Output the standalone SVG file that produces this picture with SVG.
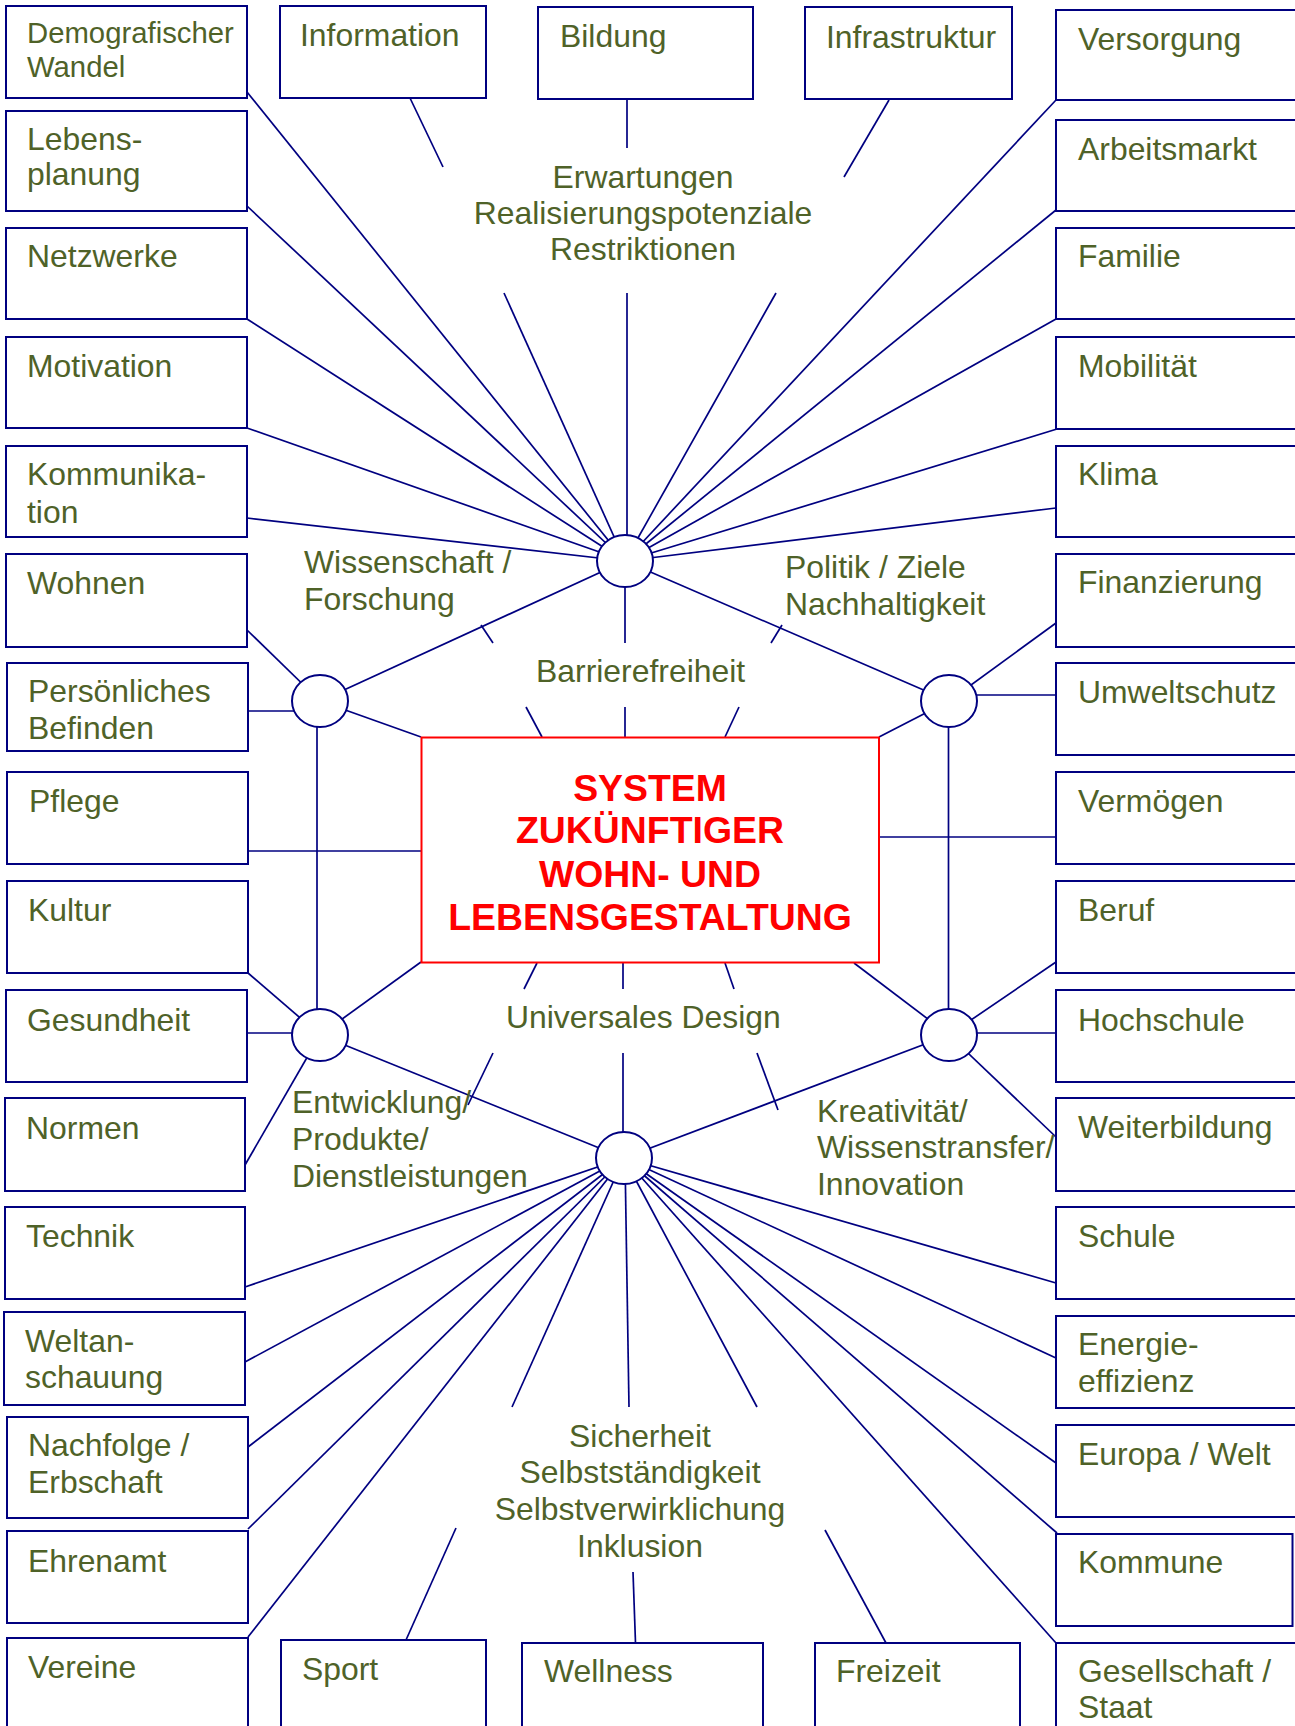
<svg xmlns="http://www.w3.org/2000/svg" width="1295" height="1726" viewBox="0 0 1295 1726">
<style>
  .bg { fill: #ffffff; }
  .box { fill: #ffffff; stroke: #000080; stroke-width: 2; }
  .hub { fill: #ffffff; stroke: #000080; stroke-width: 2; }
  .core { fill: #ffffff; stroke: #ff0000; stroke-width: 2; }
  .c line { stroke: #000080; stroke-width: 1.7; }
  text { font-family: "Liberation Sans", Arial, sans-serif; }
  .t { font-size: 31.9px; fill: #4f6228; }
  .ts { font-size: 29.3px; fill: #4f6228; }
  .mid { text-anchor: middle; }
  .title { font-size: 37.4px; font-weight: bold; fill: #ff0000; text-anchor: middle; }
</style>
<rect class="bg" x="0" y="0" width="1295" height="1726"/>

<g id="connectors" class="c">
  <!-- top hub (625,561) -->
  <line x1="247" y1="92" x2="625" y2="561"/>
  <line x1="247" y1="206" x2="625" y2="561"/>
  <line x1="247" y1="319" x2="625" y2="561"/>
  <line x1="247" y1="428" x2="625" y2="561"/>
  <line x1="247" y1="518" x2="625" y2="561"/>
  <line x1="1056" y1="100" x2="625" y2="561"/>
  <line x1="1056" y1="210" x2="625" y2="561"/>
  <line x1="1056" y1="319" x2="625" y2="561"/>
  <line x1="1057" y1="429" x2="625" y2="561"/>
  <line x1="1056" y1="508" x2="625" y2="561"/>
  <line x1="410" y1="98" x2="443" y2="167"/>
  <line x1="504" y1="293" x2="625" y2="561"/>
  <line x1="627" y1="99" x2="627" y2="148"/>
  <line x1="627" y1="293" x2="627" y2="561"/>
  <line x1="889" y1="100" x2="844" y2="177"/>
  <line x1="776" y1="293" x2="625" y2="561"/>
  <!-- top hub to side hubs -->
  <line x1="320" y1="701" x2="625" y2="561"/>
  <line x1="949" y1="701" x2="625" y2="561"/>
  <!-- Barrierefreiheit links -->
  <line x1="481" y1="625" x2="493" y2="643"/>
  <line x1="526" y1="707" x2="542" y2="737"/>
  <line x1="625" y1="561" x2="625" y2="643"/>
  <line x1="625" y1="707" x2="625" y2="737"/>
  <line x1="782" y1="625" x2="771" y2="643"/>
  <line x1="739" y1="707" x2="725" y2="737"/>
  <!-- left hub (320,701) -->
  <line x1="247" y1="630" x2="320" y2="701"/>
  <line x1="248" y1="711" x2="300" y2="711"/>
  <line x1="421" y1="737" x2="320" y2="701"/>
  <line x1="317" y1="701" x2="317" y2="1035"/>
  <line x1="248" y1="851" x2="421" y2="851"/>
  <!-- right hub (949,701) -->
  <line x1="1056" y1="623" x2="949" y2="701"/>
  <line x1="1056" y1="695" x2="949" y2="695"/>
  <line x1="879" y1="737" x2="949" y2="701"/>
  <line x1="948.5" y1="701" x2="948.5" y2="1035"/>
  <line x1="879" y1="837" x2="1056" y2="837"/>
  <!-- lower left hub (320,1035) -->
  <line x1="248" y1="973" x2="320" y2="1035"/>
  <line x1="247" y1="1033" x2="300" y2="1033"/>
  <line x1="421" y1="962" x2="320" y2="1035"/>
  <line x1="245" y1="1165" x2="320" y2="1035"/>
  <line x1="320" y1="1035" x2="624" y2="1158"/>
  <!-- lower right hub (949,1035) -->
  <line x1="854" y1="963" x2="949" y2="1035"/>
  <line x1="1056" y1="962" x2="949" y2="1035"/>
  <line x1="1056" y1="1033" x2="970" y2="1033"/>
  <line x1="1056" y1="1137" x2="949" y2="1035"/>
  <line x1="949" y1="1035" x2="624" y2="1158"/>
  <!-- Universales Design links -->
  <line x1="537" y1="963" x2="524" y2="989"/>
  <line x1="623" y1="963" x2="623" y2="989"/>
  <line x1="725" y1="963" x2="734" y2="989"/>
  <line x1="493" y1="1053" x2="468" y2="1105"/>
  <line x1="623" y1="1053" x2="623" y2="1158"/>
  <line x1="757" y1="1053" x2="778" y2="1110"/>
  <!-- bottom hub (624,1158) -->
  <line x1="245" y1="1287" x2="624" y2="1158"/>
  <line x1="245" y1="1362" x2="624" y2="1158"/>
  <line x1="248" y1="1447" x2="624" y2="1158"/>
  <line x1="248" y1="1529" x2="624" y2="1158"/>
  <line x1="248" y1="1637" x2="624" y2="1158"/>
  <line x1="1056" y1="1283" x2="624" y2="1158"/>
  <line x1="1056" y1="1358" x2="624" y2="1158"/>
  <line x1="1056" y1="1463" x2="624" y2="1158"/>
  <line x1="1057" y1="1533" x2="624" y2="1158"/>
  <line x1="1056" y1="1643" x2="624" y2="1158"/>
  <line x1="406" y1="1640" x2="456" y2="1528"/>
  <line x1="512" y1="1407" x2="624" y2="1158"/>
  <line x1="635.5" y1="1643" x2="633" y2="1572"/>
  <line x1="629" y1="1407" x2="625" y2="1158"/>
  <line x1="886" y1="1643" x2="825" y2="1530"/>
  <line x1="757" y1="1407" x2="624" y2="1158"/>
</g>

<g id="labels">
  <text class="t mid" x="643" y="188">Erwartungen</text>
  <text class="t mid" x="643" y="224">Realisierungspotenziale</text>
  <text class="t mid" x="643" y="260">Restriktionen</text>
  <text class="t" x="304" y="573">Wissenschaft /</text>
  <text class="t" x="304" y="610">Forschung</text>
  <text class="t" x="785" y="578">Politik / Ziele</text>
  <text class="t" x="785" y="615">Nachhaltigkeit</text>
  <text class="t" x="536" y="682">Barrierefreiheit</text>
  <text class="t" x="506" y="1028">Universales Design</text>
  <text class="t" x="292" y="1113">Entwicklung/</text>
  <text class="t" x="292" y="1150">Produkte/</text>
  <text class="t" x="292" y="1187">Dienstleistungen</text>
  <text class="t" x="817" y="1122">Kreativität/</text>
  <text class="t" x="817" y="1158">Wissenstransfer/</text>
  <text class="t" x="817" y="1195">Innovation</text>
  <text class="t mid" x="640" y="1447">Sicherheit</text>
  <text class="t mid" x="640" y="1483">Selbstständigkeit</text>
  <text class="t mid" x="640" y="1520">Selbstverwirklichung</text>
  <text class="t mid" x="640" y="1557">Inklusion</text>
</g>

<!-- hubs -->
<g id="hub-top"><ellipse class="hub" cx="625" cy="561" rx="28" ry="26"/></g>
<g id="hub-left"><ellipse class="hub" cx="320" cy="701" rx="28" ry="26"/></g>
<g id="hub-right"><ellipse class="hub" cx="949" cy="701" rx="28" ry="26"/></g>
<g id="hub-lower-left"><ellipse class="hub" cx="320" cy="1035" rx="28" ry="26"/></g>
<g id="hub-lower-right"><ellipse class="hub" cx="949" cy="1035" rx="28" ry="26"/></g>
<g id="hub-bottom"><ellipse class="hub" cx="624" cy="1158" rx="28" ry="26"/></g>

<!-- center -->
<g id="core">
  <rect class="core" x="421.5" y="737.5" width="457.5" height="225"/>
  <text class="title" x="650" y="801">SYSTEM</text>
  <text class="title" x="650" y="843">ZUKÜNFTIGER</text>
  <text class="title" x="650" y="887">WOHN- UND</text>
  <text class="title" x="650" y="930">LEBENSGESTALTUNG</text>
</g>

<!-- top row -->
<g id="n-demografie"><rect class="box" x="6" y="6" width="241" height="92"/><text class="ts" x="27" y="43">Demografischer</text><text class="ts" x="27" y="77">Wandel</text></g>
<g id="n-information"><rect class="box" x="280" y="6" width="206" height="92"/><text class="t" x="300" y="46">Information</text></g>
<g id="n-bildung"><rect class="box" x="538" y="7" width="215" height="92"/><text class="t" x="560" y="47">Bildung</text></g>
<g id="n-infrastruktur"><rect class="box" x="805" y="7" width="207" height="92"/><text class="t" x="826" y="48">Infrastruktur</text></g>

<!-- left column -->
<g id="n-lebensplanung"><rect class="box" x="6" y="111" width="241" height="100"/><text class="t" x="27" y="150">Lebens-</text><text class="t" x="27" y="185">planung</text></g>
<g id="n-netzwerke"><rect class="box" x="6" y="228" width="241" height="91"/><text class="t" x="27" y="267">Netzwerke</text></g>
<g id="n-motivation"><rect class="box" x="6" y="337" width="241" height="91"/><text class="t" x="27" y="377">Motivation</text></g>
<g id="n-kommunikation"><rect class="box" x="6" y="446" width="241" height="91"/><text class="t" x="27" y="485">Kommunika-</text><text class="t" x="27" y="523">tion</text></g>
<g id="n-wohnen"><rect class="box" x="6" y="554" width="241" height="93"/><text class="t" x="27" y="594">Wohnen</text></g>
<g id="n-befinden"><rect class="box" x="7" y="663" width="241" height="88"/><text class="t" x="28" y="702">Persönliches</text><text class="t" x="28" y="739">Befinden</text></g>
<g id="n-pflege"><rect class="box" x="7" y="772" width="241" height="92"/><text class="t" x="29" y="812">Pflege</text></g>
<g id="n-kultur"><rect class="box" x="7" y="881" width="241" height="92"/><text class="t" x="28" y="921">Kultur</text></g>
<g id="n-gesundheit"><rect class="box" x="6" y="990" width="241" height="92"/><text class="t" x="27" y="1031">Gesundheit</text></g>
<g id="n-normen"><rect class="box" x="5" y="1098" width="240" height="93"/><text class="t" x="26" y="1139">Normen</text></g>
<g id="n-technik"><rect class="box" x="5" y="1207" width="240" height="92"/><text class="t" x="26" y="1247">Technik</text></g>
<g id="n-weltanschauung"><rect class="box" x="4" y="1312" width="241" height="93"/><text class="t" x="25" y="1352">Weltan-</text><text class="t" x="25" y="1388">schauung</text></g>
<g id="n-nachfolge"><rect class="box" x="7" y="1417" width="241" height="101"/><text class="t" x="28" y="1456">Nachfolge /</text><text class="t" x="28" y="1493">Erbschaft</text></g>
<g id="n-ehrenamt"><rect class="box" x="7" y="1531" width="241" height="92"/><text class="t" x="28" y="1572">Ehrenamt</text></g>
<g id="n-vereine"><rect class="box" x="7" y="1638" width="241" height="100"/><text class="t" x="28" y="1678">Vereine</text></g>

<!-- bottom row -->
<g id="n-sport"><rect class="box" x="281" y="1640" width="205" height="100"/><text class="t" x="302" y="1680">Sport</text></g>
<g id="n-wellness"><rect class="box" x="522" y="1643" width="241" height="100"/><text class="t" x="544" y="1682">Wellness</text></g>
<g id="n-freizeit"><rect class="box" x="815" y="1643" width="205" height="100"/><text class="t" x="836" y="1682">Freizeit</text></g>

<!-- right column -->
<g id="n-versorgung"><rect class="box" x="1056" y="10" width="250" height="90"/><text class="t" x="1078" y="50">Versorgung</text></g>
<g id="n-arbeitsmarkt"><rect class="box" x="1056" y="120" width="250" height="91"/><text class="t" x="1078" y="160">Arbeitsmarkt</text></g>
<g id="n-familie"><rect class="box" x="1056" y="228" width="250" height="91"/><text class="t" x="1078" y="267">Familie</text></g>
<g id="n-mobilitaet"><rect class="box" x="1056" y="337" width="250" height="92"/><text class="t" x="1078" y="377">Mobilität</text></g>
<g id="n-klima"><rect class="box" x="1056" y="446" width="250" height="91"/><text class="t" x="1078" y="485">Klima</text></g>
<g id="n-finanzierung"><rect class="box" x="1056" y="554" width="250" height="93"/><text class="t" x="1078" y="593">Finanzierung</text></g>
<g id="n-umweltschutz"><rect class="box" x="1056" y="663" width="250" height="92"/><text class="t" x="1078" y="703">Umweltschutz</text></g>
<g id="n-vermoegen"><rect class="box" x="1056" y="772" width="250" height="92"/><text class="t" x="1078" y="812">Vermögen</text></g>
<g id="n-beruf"><rect class="box" x="1056" y="881" width="250" height="92"/><text class="t" x="1078" y="921">Beruf</text></g>
<g id="n-hochschule"><rect class="box" x="1056" y="990" width="250" height="92"/><text class="t" x="1078" y="1031">Hochschule</text></g>
<g id="n-weiterbildung"><rect class="box" x="1056" y="1098" width="250" height="93"/><text class="t" x="1078" y="1138">Weiterbildung</text></g>
<g id="n-schule"><rect class="box" x="1056" y="1207" width="250" height="92"/><text class="t" x="1078" y="1247">Schule</text></g>
<g id="n-energie"><rect class="box" x="1056" y="1316" width="250" height="92"/><text class="t" x="1078" y="1355">Energie-</text><text class="t" x="1078" y="1392">effizienz</text></g>
<g id="n-europa"><rect class="box" x="1056" y="1425" width="250" height="92"/><text class="t" x="1078" y="1465">Europa / Welt</text></g>
<g id="n-kommune"><rect class="box" x="1056" y="1534" width="236.5" height="92"/><text class="t" x="1078" y="1573">Kommune</text></g>
<g id="n-gesellschaft"><rect class="box" x="1056" y="1643" width="250" height="100"/><text class="t" x="1078" y="1682">Gesellschaft /</text><text class="t" x="1078" y="1718">Staat</text></g>
</svg>
